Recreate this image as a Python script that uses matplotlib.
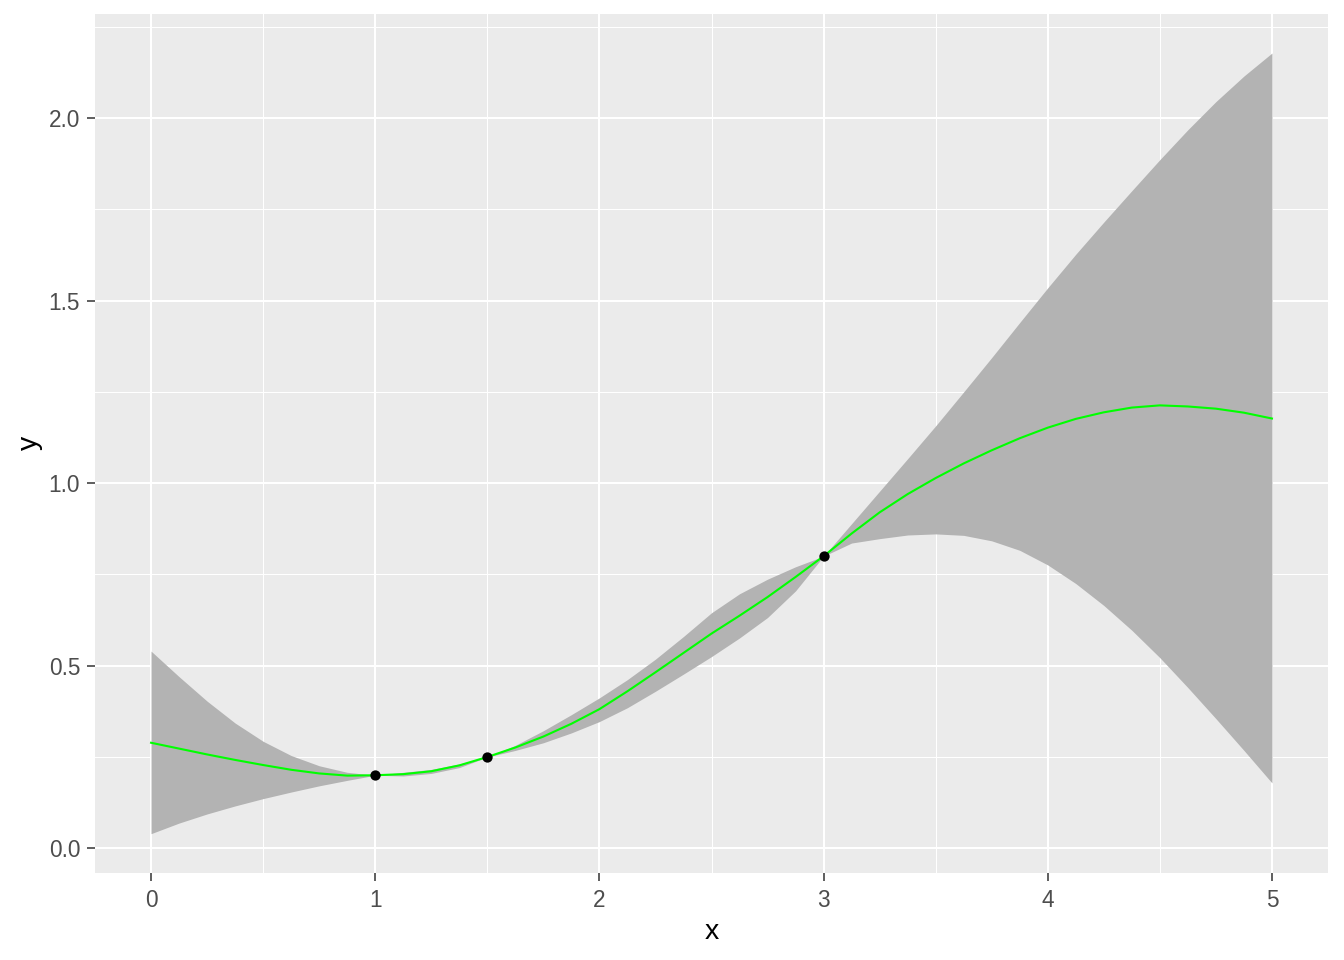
import matplotlib
matplotlib.use("Agg")
import matplotlib.pyplot as plt
from matplotlib.ticker import MultipleLocator

plt.rcParams['font.family'] = ['Liberation Sans', 'DejaVu Sans']

# ---- data ----
x_grid = [0.0, 0.125, 0.25, 0.375, 0.5, 0.625, 0.75, 0.875,
          1.0, 1.125, 1.25, 1.375, 1.5, 1.625, 1.75, 1.875,
          2.0, 2.125, 2.25, 2.375, 2.5, 2.625, 2.75, 2.875,
          3.0, 3.125, 3.25, 3.375, 3.5, 3.625, 3.75, 3.875,
          4.0, 4.125, 4.25, 4.375, 4.5, 4.625, 4.75, 4.875, 5.0]

mean_y = [0.289, 0.273, 0.257, 0.242, 0.228, 0.215, 0.205, 0.199,
          0.200, 0.203, 0.211, 0.227, 0.250, 0.276, 0.306, 0.341,
          0.381, 0.430, 0.482, 0.535, 0.588, 0.637, 0.688, 0.743,
          0.800, 0.862, 0.920, 0.970, 1.014, 1.054, 1.090, 1.123,
          1.152, 1.176, 1.194, 1.207, 1.213, 1.210, 1.204, 1.193, 1.177]

upper_y = [0.540, 0.470, 0.403, 0.343, 0.293, 0.254, 0.226, 0.208,
           0.200, 0.208, 0.216, 0.231, 0.250, 0.282, 0.322, 0.366,
           0.412, 0.462, 0.518, 0.580, 0.645, 0.697, 0.737, 0.771,
           0.800, 0.889, 0.978, 1.067, 1.157, 1.250, 1.344, 1.440,
           1.535, 1.627, 1.715, 1.801, 1.886, 1.968, 2.045, 2.115, 2.178]

lower_y = [0.040, 0.069, 0.094, 0.116, 0.136, 0.154, 0.171, 0.186,
           0.200, 0.198, 0.205, 0.221, 0.250, 0.268, 0.289, 0.316,
           0.347, 0.385, 0.430, 0.477, 0.525, 0.576, 0.632, 0.705,
           0.800, 0.836, 0.848, 0.858, 0.861, 0.857, 0.842, 0.816,
           0.776, 0.725, 0.665, 0.597, 0.522, 0.440, 0.355, 0.268, 0.179]

obs_x = [1.0, 1.5, 3.0]
obs_y = [0.2, 0.25, 0.8]

x_ticks = [0, 1, 2, 3, 4, 5]
x_tick_labels = ['0', '1', '2', '3', '4', '5']
y_ticks = [0.0, 0.5, 1.0, 1.5, 2.0]
y_tick_labels = ['0.0', '0.5', '1.0', '1.5', '2.0']

# ---- figure ----
W, H = 1344, 960
fig = plt.figure(figsize=(W / 100, H / 100), dpi=100)
left, right, top, bottom = 95, 1328, 14, 872.7
ax = fig.add_axes([left / W, 1 - bottom / H, (right - left) / W, (bottom - top) / H])
ax.set_facecolor('#EBEBEB')

ax.fill_between(x_grid, lower_y, upper_y, color='#B3B3B3', linewidth=0, zorder=2)
ax.plot(x_grid, mean_y, color='#00FF00', linewidth=1.5, zorder=3,
        solid_joinstyle='round')
ax.scatter(obs_x, obs_y, s=55, color='black', linewidths=0, zorder=4)

# ggplot-like expansion (5%)
xmin, xmax = min(x_grid), max(x_grid)
ymin, ymax = min(lower_y), max(upper_y)
xp = 0.05 * (xmax - xmin)
yp = 0.05 * (ymax - ymin)
ax.set_xlim(xmin - xp, xmax + xp)
ax.set_ylim(ymin - yp, ymax + yp)

ax.set_xticks(x_ticks)
ax.set_xticklabels(x_tick_labels)
ax.set_yticks(y_ticks)
ax.set_yticklabels(y_tick_labels)
ax.xaxis.set_minor_locator(MultipleLocator(0.5))
ax.yaxis.set_minor_locator(MultipleLocator(0.25))

ax.grid(which='major', color='white', linewidth=1.5)
ax.grid(which='minor', color='white', linewidth=0.75)
ax.set_axisbelow(True)
for s in ax.spines.values():
    s.set_visible(False)

ax.tick_params(which='major', length=5.9, width=1.1, color='#333333',
               labelcolor='#4D4D4D', labelsize=16.3)
ax.tick_params(axis='x', which='major', pad=5.6)
ax.tick_params(axis='y', which='major', pad=4.8)
ax.tick_params(which='minor', length=0)

ax.set_xlabel('x', fontsize=20.5, color='black', va='center')
ax.set_ylabel('y', fontsize=20.5, color='black', va='center')
ax.xaxis.set_label_coords((711.5 - left) / (right - left), -(932 - bottom) / (bottom - top))
ax.yaxis.set_label_coords(-(left - 30) / (right - left), (bottom - 443) / (bottom - top))

fig.savefig('out.png', dpi=100, facecolor='white')
